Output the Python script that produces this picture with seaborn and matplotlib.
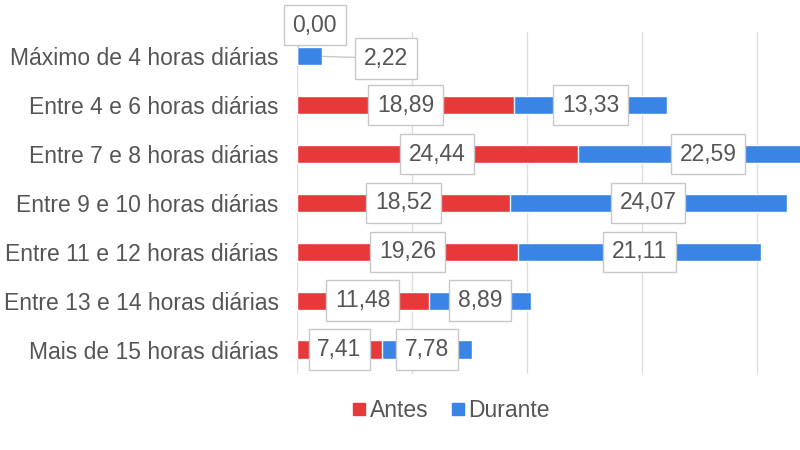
import matplotlib
matplotlib.use('Agg')
import matplotlib.pyplot as plt
from matplotlib.lines import Line2D
import pandas as pd
import seaborn as sns

categorias = ['Máximo de 4 horas diárias', 'Entre 4 e 6 horas diárias',
              'Entre 7 e 8 horas diárias', 'Entre 9 e 10 horas diárias',
              'Entre 11 e 12 horas diárias', 'Entre 13 e 14 horas diárias',
              'Mais de 15 horas diárias']
antes = [0.00, 18.89, 24.44, 18.52, 19.26, 11.48, 7.41]
durante = [2.22, 13.33, 22.59, 24.07, 21.11, 8.89, 7.78]

RED = '#E8393A'
BLUE = '#3A84E6'
TXT = '#555555'
FS = 16.5


def fmt(v):
    return f'{v:.2f}'.replace('.', ',')


sns.set_theme(style='white')
plt.rcParams['font.family'] = ['Liberation Sans', 'DejaVu Sans']

df = pd.DataFrame({'cat': categorias, 'antes': antes, 'durante': durante})
df['total'] = df['antes'] + df['durante']

fig = plt.figure(figsize=(8, 4.5), dpi=100)
ax = fig.add_axes([0.371, 0.169, 0.719, 0.76])

# stacked: total in blue, then antes over it in red
sns.barplot(data=df, y='cat', x='total', color=BLUE, width=0.37,
            orient='h', ax=ax, saturation=1)
sns.barplot(data=df, y='cat', x='antes', color=RED, width=0.37,
            orient='h', ax=ax, saturation=1)

ax.set_xlim(0, 50)
ax.set_xticks([0, 10, 20, 30, 40])
ax.set_xticklabels([])
ax.grid(axis='x', color='#DDDDDD', linewidth=1)
ax.set_axisbelow(True)
for s in ax.spines.values():
    s.set_visible(False)
ax.set_xlabel('')
ax.set_ylabel('')
ax.tick_params(axis='y', length=0, pad=13, labelsize=FS, labelcolor=TXT)
ax.tick_params(axis='x', length=0)

box = dict(boxstyle='square,pad=0.38', fc='white', ec='#C8C8C8', lw=1)
line = dict(arrowstyle='-', color='#C8C8C8', lw=1, shrinkA=0, shrinkB=0)
for i, (a, d) in enumerate(zip(antes, durante)):
    if i == 0:
        ax.annotate(fmt(a), xy=(0.1, i - 0.185), xytext=(12, 16),
                    textcoords='offset points', ha='center', va='center',
                    fontsize=FS, color=TXT, bbox=box, annotation_clip=False,
                    arrowprops=line)
        ax.annotate(fmt(d), xy=(a + d, i), xytext=(46, -1.5),
                    textcoords='offset points', ha='center', va='center',
                    fontsize=FS, color=TXT, bbox=box, arrowprops=line)
        continue
    ax.text(a / 2, i, fmt(a), ha='center', va='center', fontsize=FS,
            color=TXT, bbox=box)
    ax.text(a + d / 2, i, fmt(d), ha='center', va='center', fontsize=FS,
            color=TXT, bbox=box)

handles = [Line2D([], [], marker='s', ls='', color=RED, markersize=8),
           Line2D([], [], marker='s', ls='', color=BLUE, markersize=8)]
fig.legend(handles, ['Antes', 'Durante'], loc='center',
           bbox_to_anchor=(0.5625, 0.087), ncol=2, frameon=False,
           fontsize=FS, labelcolor=TXT, handletextpad=0.05,
           columnspacing=0.9, handlelength=0.8)

fig.savefig('out.png', dpi=100, facecolor='white')
